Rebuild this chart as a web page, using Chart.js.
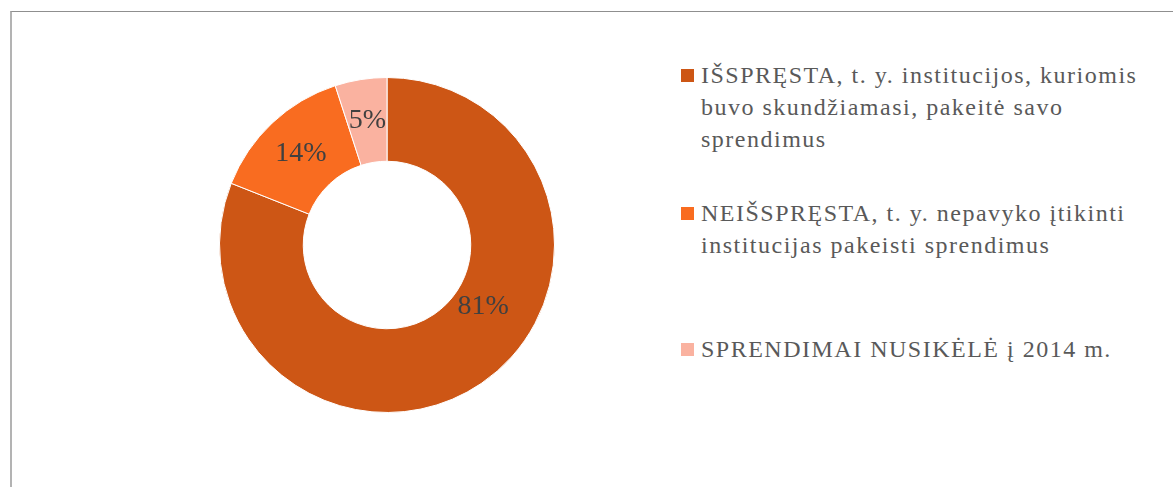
<!DOCTYPE html>
<html>
<head>
<meta charset="utf-8">
<script src="https://cdn.jsdelivr.net/npm/chart.js@4"></script>
<style>
    body { margin: 0; width: 1173px; height: 487px; overflow: hidden; background: #fff; position: relative; }
    #frame { position: absolute; left: 10px; top: 11px; width: 1200px; height: 500px;
             border-top: 1px solid #8f8f8f; border-left: 2px solid #b3b3b3; }
    #chart-wrap { position: absolute; left: 219px; top: 77px; width: 336px; height: 336px; }
    #legend { position: absolute; left: 701px; top: 0; font-family: 'Liberation Serif', serif;
              font-size: 24px; letter-spacing: 1.5px; line-height: 32px; color: #595959; }
    .item { position: absolute; left: 0; white-space: nowrap; }
    .item .box { position: absolute; left: -20px; top: 10px; width: 13px; height: 13px; }
</style>
</head>
<body>
<div id="frame"></div>
<div id="chart-wrap"><canvas id="pie" width="336" height="336"></canvas></div>
<div id="legend"></div>
<script>
const categories = [
    ['IŠSPRĘSTA, t. y. institucijos, kuriomis', 'buvo skundžiamasi, pakeitė savo', 'sprendimus'],
    ['NEIŠSPRĘSTA, t. y. nepavyko įtikinti', 'institucijas pakeisti sprendimus'],
    ['SPRENDIMAI NUSIKĖLĖ į 2014 m.']
];
const values = [81, 14, 5];
const valueLabels = ['81%', '14%', '5%'];
const colors = ['#cd5615', '#f96c20', '#fab2a0'];

// where each % label sits: fraction along the slice, fraction across the ring
const labelAt = [0.42, 0.5, 0.5];
const labelDepth = [0.36, 0.5, 0.5];
const legendTops = [59, 197, 333];

// legend on the right, built from the same arrays
const legend = document.getElementById('legend');
categories.forEach(function(lines, i) {
    const div = document.createElement('div');
    div.className = 'item';
    div.style.top = legendTops[i] + 'px';
    const box = document.createElement('span');
    box.className = 'box';
    box.style.background = colors[i];
    div.appendChild(box);
    lines.forEach(function(line, j) {
        if (j > 0) div.appendChild(document.createElement('br'));
        div.appendChild(document.createTextNode(line));
    });
    legend.appendChild(div);
});

const sliceLabels = {
    id: 'sliceLabels',
    afterDatasetsDraw(chart) {
        const ctx = chart.ctx;
        const meta = chart.getDatasetMeta(0);
        ctx.save();
        ctx.font = '28px "Liberation Serif", serif';
        ctx.fillStyle = '#404040';
        ctx.textAlign = 'center';
        ctx.textBaseline = 'middle';
        meta.data.forEach(function(arc, i) {
            const p = arc.getProps(['x', 'y', 'startAngle', 'endAngle', 'innerRadius', 'outerRadius'], true);
            const a = p.startAngle + (p.endAngle - p.startAngle) * labelAt[i];
            const r = p.innerRadius + (p.outerRadius - p.innerRadius) * labelDepth[i];
            ctx.fillText(valueLabels[i], p.x + Math.cos(a) * r, p.y + Math.sin(a) * r);
        });
        ctx.restore();
    }
};

new Chart(document.getElementById('pie').getContext('2d'), {
    type: 'doughnut',
    data: {
        labels: categories.map(function(l) { return l.join(' '); }),
        datasets: [{
            data: values,
            backgroundColor: colors,
            borderColor: '#ffffff',
            borderWidth: 1
        }]
    },
    options: {
        responsive: false,
        animation: false,
        cutout: '50%',
        layout: { padding: 0 },
        plugins: {
            legend: { display: false },
            tooltip: { enabled: false }
        }
    },
    plugins: [sliceLabels]
});
</script>
</body>
</html>
